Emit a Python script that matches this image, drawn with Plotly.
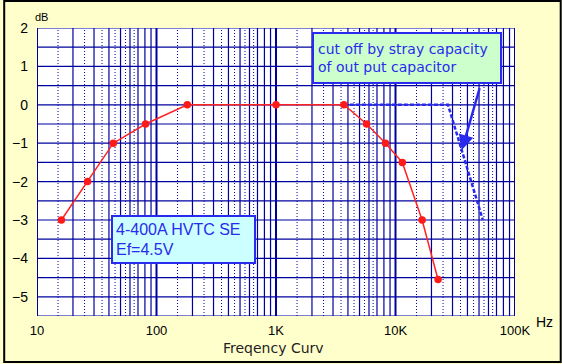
import numpy as np
import plotly.graph_objects as go

# Data
freq_hz = [16, 26.5, 43.5, 81, 181, 1000, 3700, 5730, 8250, 11400, 16700, 22700]
gain_db = [-3, -2, -1, -0.5, 0, 0, 0, -0.5, -1, -1.5, -3, -4.55]

stray_freq_hz = [3700, 27500, 53800]
stray_gain_db = [0, 0, -3]

arrow_tip = (35900, -1.18)
arrow_tail = (51000, 0.47)

y_ticks = [2, 1, 0, -1, -2, -3, -4, -5]
x_tickvals = [10, 100, 1000, 10000, 100000]
x_ticktext = ["10", "100", "1K", "10K", "100K"]

Y_MIN, Y_MAX = -5.5, 2
GRID = "#0000a0"
BLUE = "#2a2aee"

fig = go.Figure()

# grid lines (as traces in data space)
def vlines(vals):
    xs, ys = [], []
    for v in vals:
        xs += [v, v, None]
        ys += [Y_MIN, Y_MAX, None]
    return xs, ys

decades = [10, 100, 1000, 10000]
solid = [m * d for d in decades for m in range(2, 10)]
dotted = [m * d for d in decades for m in (1.5, 2.5, 3.5, 4.5, 5.5, 6.5)]
thick = [10, 100, 1000, 10000, 100000]

xs, ys = vlines(dotted)
fig.add_trace(go.Scatter(x=xs, y=ys, mode="lines", line=dict(color=GRID, width=1, dash="1px,2px"),
                         hoverinfo="skip", showlegend=False))
hx, hy = [], []
for k in range(int((Y_MAX - Y_MIN) / 0.5) + 1):
    yv = Y_MIN + 0.5 * k
    hx += [10, 100000, None]
    hy += [yv, yv, None]
fig.add_trace(go.Scatter(x=hx, y=hy, mode="lines", line=dict(color=GRID, width=1.2),
                         hoverinfo="skip", showlegend=False))
xs, ys = vlines(solid)
fig.add_trace(go.Scatter(x=xs, y=ys, mode="lines", line=dict(color=GRID, width=1.2),
                         hoverinfo="skip", showlegend=False))
xs, ys = vlines(thick)
fig.add_trace(go.Scatter(x=xs, y=ys, mode="lines", line=dict(color=GRID, width=2),
                         hoverinfo="skip", showlegend=False))

# stray capacity curve
fig.add_trace(go.Scatter(x=stray_freq_hz, y=stray_gain_db, mode="lines",
                         line=dict(color=BLUE, width=2.5, dash="4px,2px"), showlegend=False))

# main curve
fig.add_trace(go.Scatter(x=freq_hz, y=gain_db, mode="lines+markers",
                         line=dict(color="#ff2222", width=1.5),
                         marker=dict(color="#ff1a1a", size=7.5), showlegend=False))

fig.update_layout(
    width=562, height=364,
    margin=dict(l=34, r=47, t=28, b=48),
    paper_bgcolor="#ffffcc",
    plot_bgcolor="white",
    font=dict(family="Liberation Sans, Arial, sans-serif", color="black", size=13),
    xaxis=dict(type="log", range=[1, 5], showgrid=False, zeroline=False,
               tickvals=x_tickvals, ticktext=x_ticktext, ticks="", ticklabelstandoff=5,
               tickfont=dict(size=13)),
    yaxis=dict(range=[Y_MIN, Y_MAX], showgrid=False, zeroline=False,
               tickvals=y_ticks, ticks="", ticklabelstandoff=8, tickfont=dict(size=14)),
    showlegend=False,
)

ann = []
ann.append(dict(xref="paper", yref="paper", x=(311 - 34) / 481, y=(316 - 32) / 288,
                xanchor="left", yanchor="top",
                text="cut off by stray capacity<br>of out put capacitor",
                align="left", showarrow=False, width=178, height=40,
                bgcolor="#ccffcc", bordercolor=BLUE, borderwidth=2, borderpad=4,
                font=dict(size=14, color=BLUE, family="DejaVu Sans, sans-serif")))
ann.append(dict(xref="paper", yref="paper", x=(108 - 34) / 481, y=(316 - 215) / 288,
                xanchor="left", yanchor="top",
                text="4-400A HVTC SE<br>Ef=4.5V",
                align="left", showarrow=False, width=135, height=39,
                bgcolor="#ccffff", bordercolor=BLUE, borderwidth=2, borderpad=3,
                font=dict(size=16, color=BLUE)))
ann.append(dict(xref="x", yref="y", x=np.log10(arrow_tip[0]), y=arrow_tip[1],
                axref="x", ayref="y", ax=np.log10(arrow_tail[0]), ay=arrow_tail[1],
                text="", showarrow=True, arrowhead=2, arrowsize=1.2, arrowwidth=2.5,
                arrowcolor=BLUE))
ann.append(dict(xref="paper", yref="paper", x=(545 - 34) / 481, y=(316 - 322) / 288,
                xanchor="center", yanchor="middle", text="Hz", showarrow=False,
                font=dict(size=14)))
ann.append(dict(xref="paper", yref="paper", x=(39 - 34) / 481, y=(316 - 17) / 288,
                xanchor="center", yanchor="middle", text="dB", showarrow=False,
                font=dict(size=11)))
ann.append(dict(xref="paper", yref="paper", x=(272 - 34) / 481, y=(316 - 348) / 288,
                xanchor="center", yanchor="middle", text="Freqency Curv", showarrow=False,
                font=dict(size=14, color="#222222", family="DejaVu Sans, sans-serif")))
fig.update_layout(annotations=ann)

fig.add_shape(type="rect", xref="paper", yref="paper",
              x0=-33 / 481, x1=(562 - 35) / 481, y0=-(364 - 316 - 2) / 288, y1=(316 - 1) / 288 + 0.0,
              line=dict(color="black", width=2), layer="below")

fig.write_html("out.html", config={"displayModeBar": False},
               post_script="document.body.style.margin='0';document.body.style.overflow='hidden';")
